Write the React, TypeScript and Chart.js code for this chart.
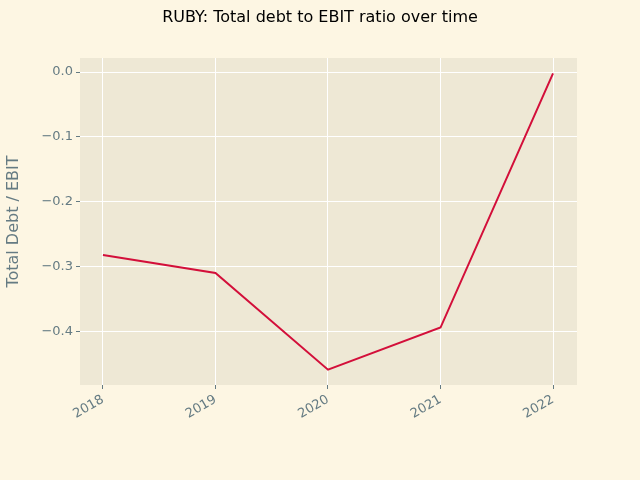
import React, { useEffect, useRef } from 'react';
import { Chart, registerables } from 'chart.js';

Chart.register(...registerables);

const years = [2018, 2019, 2020, 2021, 2022];
const ratios = [-0.282, -0.31, -0.459, -0.394, -0.002];
const yTicks = [0, -0.1, -0.2, -0.3, -0.4];

const titlePlugin = {
  id: 'figTitle',
  beforeDraw(chart: Chart) {
    const { ctx, chartArea } = chart;
    ctx.save();
    ctx.fillStyle = '#fdf6e3';
    ctx.fillRect(0, 0, chart.width, chart.height);
    ctx.fillStyle = '#eee8d5';
    ctx.fillRect(chartArea.left, chartArea.top, chartArea.right - chartArea.left, chartArea.bottom - chartArea.top);
    ctx.fillStyle = '#000';
    ctx.font = '16px "DejaVu Sans"';
    ctx.textAlign = 'center';
    ctx.textBaseline = 'middle';
    ctx.fillText('RUBY: Total debt to EBIT ratio over time', 320, 18);
    ctx.restore();
  },
};

const App: React.FC = () => {
  const canvasRef = useRef<HTMLCanvasElement>(null);

  useEffect(() => {
    document.body.style.margin = '0';
    if (!canvasRef.current) return;
    const chart = new Chart(canvasRef.current, {
      type: 'line',
      data: {
        datasets: [
          {
            data: years.map((y, i) => ({ x: y, y: ratios[i] })),
            borderColor: '#d30f3a',
            borderWidth: 2,
            pointRadius: 0,
            tension: 0,
          },
        ],
      },
      options: {
        animation: false,
        responsive: false,
        layout: { padding: { top: 58, right: 63, left: 0, bottom: 0 } },
        plugins: { legend: { display: false }, tooltip: { enabled: false } },
        scales: {
          x: {
            type: 'linear',
            min: 2017.796,
            max: 2022.213,
            afterBuildTicks: (s: any) => {
              s.ticks = years.map((v) => ({ value: v }));
            },
            afterFit: (s: any) => {
              s.height = 95;
            },
            border: { display: false },
            grid: { color: '#ffffff', lineWidth: 1, tickLength: 4, tickColor: '#657b83' },
            ticks: {
              color: '#657b83',
              font: { family: 'DejaVu Sans', size: 13 },
              minRotation: 30,
              maxRotation: 30,
              callback: (v: any) => String(v),
            },
          },
          y: {
            min: -0.4826,
            max: 0.0216,
            afterBuildTicks: (s: any) => {
              s.ticks = yTicks.map((v) => ({ value: v }));
            },
            afterFit: (s: any) => {
              s.width = 80;
            },
            border: { display: false },
            grid: { color: '#ffffff', lineWidth: 1, tickLength: 4, tickColor: '#657b83' },
            title: {
              display: true,
              text: 'Total Debt / EBIT',
              color: '#657b83',
              font: { family: 'DejaVu Sans', size: 16 },
            },
            ticks: {
              color: '#657b83',
              font: { family: 'DejaVu Sans', size: 13 },
              callback: (v: any) => Number(v).toFixed(1).replace('-', '\u2212').replace('\u22120.0', '0.0'),
            },
          },
        },
      },
      plugins: [titlePlugin],
    });
    return () => chart.destroy();
  }, []);

  return <canvas ref={canvasRef} width={640} height={480} style={{ display: 'block' }} />;
};

export default App;
